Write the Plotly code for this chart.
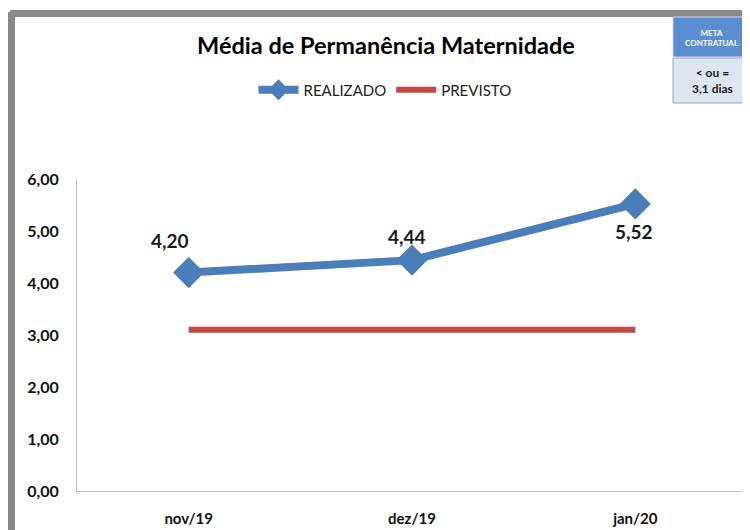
import plotly.graph_objects as go

categories = ["nov/19", "dez/19", "jan/20"]
realizado = [4.20, 4.44, 5.52]
previsto = [3.1, 3.1, 3.1]
y_ticks = [0, 1, 2, 3, 4, 5, 6]

# page offset of the figure (browser body margin)
OFF = 8
W, H = 750 - OFF, 530 - OFF
# plot-area geometry in page pixels
L, R, T, B = 77, 747, 179, 491
def px(x):
    return (x - L) / (R - L)
def py(y):
    return (B - y) / (B - T)

BLUE = "#4a7ebb"
RED = "#be4b48"
FONT = "Lato"

fig = go.Figure()
fig.add_trace(go.Scatter(
    x=categories, y=realizado, name="REALIZADO", mode="lines+markers",
    line=dict(color=BLUE, width=8),
    marker=dict(symbol="diamond", size=24, color=BLUE),
))
fig.add_trace(go.Scatter(
    x=categories, y=previsto, name="PREVISTO", mode="lines",
    line=dict(color=RED, width=6),
))

# data labels
label_shift = [(-19, 32), (-5, 24), (-1, -28)]
for c, v, (dx, dy) in zip(categories, realizado, label_shift):
    fig.add_annotation(
        x=c, y=v, text=f"{v:.2f}".replace(".", ","), showarrow=False,
        xshift=dx, yshift=dy,
        font=dict(family=FONT, size=19, color="#1a1a1a", weight="bold"),
    )

shapes = [
    # gray frame (left and top)
    dict(type="rect", xref="paper", yref="paper", x0=px(8), x1=px(15), y0=py(535), y1=py(12),
         fillcolor="#888888", line=dict(width=0), layer="above"),
    dict(type="rect", xref="paper", yref="paper", x0=px(10), x1=px(752), y0=py(17), y1=py(10),
         fillcolor="#888888", line=dict(width=0), layer="above"),
    # meta contratual box
    dict(type="rect", xref="paper", yref="paper", x0=px(673), x1=px(752), y0=py(57), y1=py(17),
         fillcolor="#5b8ed0", line=dict(width=1, color="#d0d8e8"), layer="above"),
    dict(type="rect", xref="paper", yref="paper", x0=px(673), x1=px(752), y0=py(103), y1=py(58),
         fillcolor="#dce6f2", line=dict(width=1, color="#9aa5b5"), layer="above"),
]

fig.add_annotation(xref="paper", yref="paper", x=px(712), y=py(38),
                   xanchor="center", yanchor="middle", align="center",
                   text="META<br>CONTRATUAL", showarrow=False,
                   font=dict(family=FONT, size=8, color="#ffffff", weight="bold"))
fig.add_annotation(xref="paper", yref="paper", x=px(712), y=py(80),
                   xanchor="center", yanchor="middle", align="center",
                   text="< ou =<br>3,1 dias", showarrow=False,
                   font=dict(family=FONT, size=12, color="#1a1a1a", weight="bold"))

fig.update_layout(
    width=W, height=H,
    margin=dict(l=L - OFF, r=750 - R, t=T - OFF, b=530 - B),
    paper_bgcolor="white", plot_bgcolor="white",
    separators=", ",
    shapes=shapes,
    title=dict(text="Média de Permanência Maternidade", x=(386 - OFF) / W, y=1 - (46 - OFF) / H,
               xanchor="center", yanchor="middle",
               font=dict(family=FONT, size=23.5, color="#000000", weight="bold")),
    legend=dict(orientation="h", x=px(385), y=py(90), xanchor="center", yanchor="middle",
                font=dict(family=FONT, size=15, color="#222222"), itemwidth=40,
                bgcolor="rgba(0,0,0,0)"),
    showlegend=True,
    xaxis=dict(showgrid=False, zeroline=False, showline=True, linecolor="#bfbfbf", linewidth=1,
               ticks="", tickfont=dict(family=FONT, size=15, color="#111111", weight="bold"),
               ticklabelstandoff=14, range=[-0.5, 2.5], fixedrange=True),
    yaxis=dict(range=[0, 6], tickvals=y_ticks, tickformat=".2f", showgrid=False, zeroline=False,
               showline=True, linecolor="#bfbfbf", linewidth=1, ticks="",
               tickfont=dict(family=FONT, size=16, color="#111111", weight="bold"),
               ticklabelstandoff=14),
)

fig.write_html("out.html")
